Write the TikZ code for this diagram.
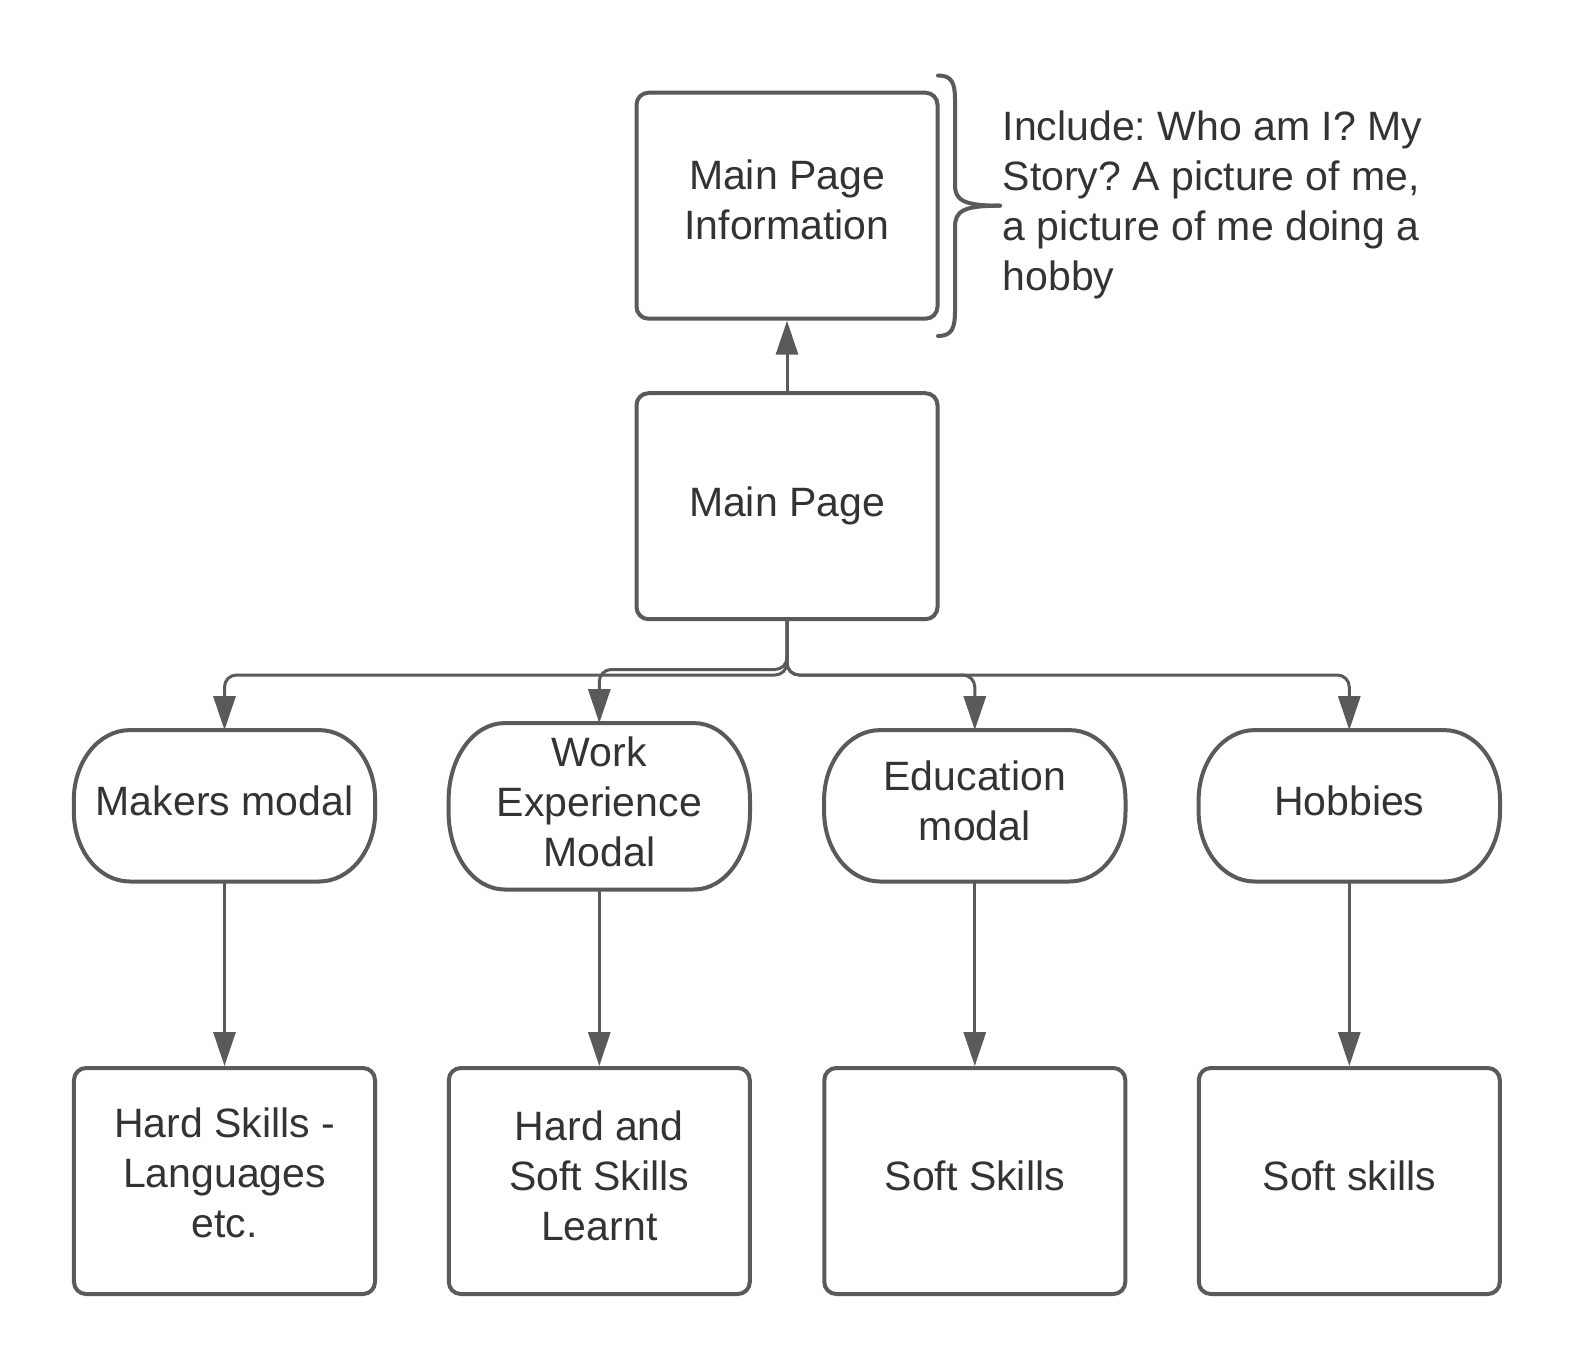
\documentclass[tikz,border=0pt]{standalone}
\usepackage{fontspec}
\setmainfont{Liberation Sans}
\usetikzlibrary{arrows.meta,calc}
\definecolor{ln}{HTML}{5A5A5A}
\definecolor{tx}{HTML}{333333}
\tikzset{
  base/.style={font=\fontsize{41bp}{50bp}\selectfont\frenchspacing, text=tx, align=center, inner sep=0pt, text depth=10bp},
  box/.style={base, draw=ln, line width=4bp, rounded corners=12bp, minimum width=301bp, minimum height=226bp},
  term/.style={base, minimum width=301bp},
  termline/.style={draw=ln, line width=4bp},
  conn/.style={draw=ln, line width=3bp, -{Triangle[width=22bp,length=34bp]}},
  bus/.style={conn, rounded corners=12bp},
}
% terminator outline: #1 node name, #2 y radius
\newcommand\termpath[2]{%
  \draw[termline]
    ([xshift=56bp]#1.north west) -- ([xshift=-56bp]#1.north east)
    .. controls ([xshift=-25bp]#1.north east) and ([yshift={-0.448*#2}]#1.north east) .. ([yshift=-#2]#1.north east)
    -- ([yshift=#2]#1.south east)
    .. controls ([yshift={0.448*#2}]#1.south east) and ([xshift=-25bp]#1.south east) .. ([xshift=-56bp]#1.south east)
    -- ([xshift=56bp]#1.south west)
    .. controls ([xshift=25bp]#1.south west) and ([yshift={0.448*#2}]#1.south west) .. ([yshift=#2]#1.south west)
    -- ([yshift=-#2]#1.north west)
    .. controls ([yshift={-0.448*#2}]#1.north west) and ([xshift=25bp]#1.north west) .. cycle;}
\begin{document}
\begin{tikzpicture}[x=1bp,y=1bp]
\useasboundingbox (0,0) rectangle (1575,-1369);
\fill[white] (0,0) rectangle (1575,-1369);

% top boxes
\node[box, text depth=12bp] (mpi) at (787,-205.7) {Main Page\\Information};
\node[box] (mp) at (787,-506.2) {Main Page};

% modals
\node[term, minimum height=151bp] (makers) at (224.5,-805.8) {Makers modal};
\node[term, minimum height=166bp] (work) at (599.3,-806.3) {Work\\Experience\\Modal};
\node[term, minimum height=151bp] (edu) at (974.8,-805.8) {Education\\modal};
\node[term, minimum height=151bp] (hob) at (1349.3,-805.8) {Hobbies};
\termpath{makers}{70bp}
\termpath{work}{77bp}
\termpath{edu}{70bp}
\termpath{hob}{70bp}

% bottom boxes
\node[box, text depth=16bp] (hs) at (224.5,-1181) {Hard Skills -\\Languages\\etc.};
\node[box] (hss) at (599.3,-1181) {Hard and\\Soft Skills\\Learnt};
\node[box] (ss) at (974.8,-1181) {Soft Skills};
\node[box] (ss2) at (1349.3,-1181) {Soft skills};

% note text
\node[base, align=left, anchor=north west, text depth=] (note) at (1002.5,-110.5) {Include: Who am I? My\\Story? A picture of me,\\a picture of me doing a\\hobby};

% brace
\coordinate (tip) at (1000,-205.7);
\draw[ln, line width=4bp, line cap=round]
  (938,-75.5) .. controls (952,-75.5) and (955,-83) .. (955,-100) -- (955,-185)
  .. controls (955,-200) and (963,-205.7) .. (tip);
\draw[ln, line width=4bp, line cap=round]
  (938,-336) .. controls (952,-336) and (955,-328) .. (955,-311) -- (955,-227)
  .. controls (955,-211) and (963,-205.7) .. (tip);

% connectors
\coordinate (busA) at (0,-675);
\coordinate (busB) at (0,-669.5);
\draw[conn] (mp.north) -- (mpi.south);
\draw[bus] (mp.south) |- (makers.north |- busA) -- (makers.north);
\draw[bus] (mp.south) |- (work.north |- busB) -- (work.north);
\draw[bus] (mp.south) |- (edu.north |- busA) -- (edu.north);
\draw[bus] (mp.south) |- (hob.north |- busA) -- (hob.north);
\draw[conn] (makers.south) -- (hs.north);
\draw[conn] (work.south) -- (hss.north);
\draw[conn] (edu.south) -- (ss.north);
\draw[conn] (hob.south) -- (ss2.north);
\end{tikzpicture}
\end{document}
